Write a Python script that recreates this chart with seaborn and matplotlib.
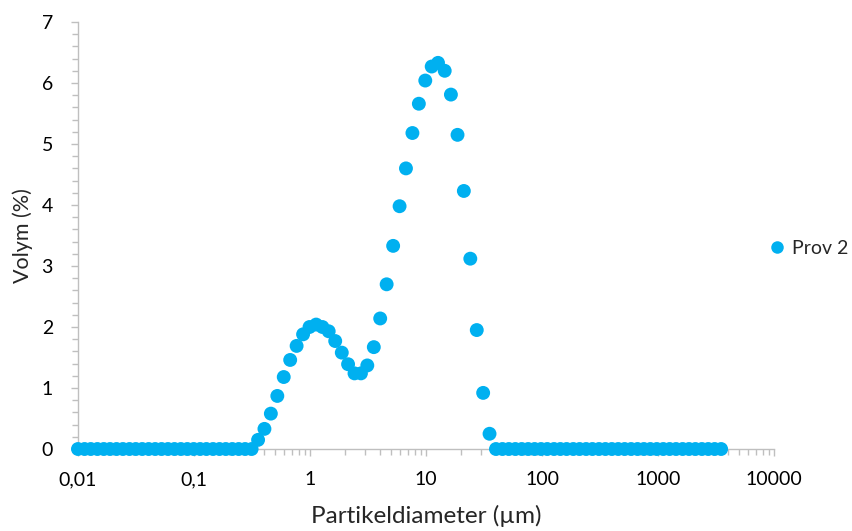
import matplotlib
matplotlib.use("Agg")
import matplotlib.pyplot as plt
import matplotlib.ticker as mticker
import seaborn as sns
import pandas as pd

# Particle size classes (µm)
sizes = [0.0100, 0.0114, 0.0129, 0.0147, 0.0167, 0.0189, 0.0215, 0.0244, 0.0278, 0.0315,
         0.0358, 0.0407, 0.0463, 0.0526, 0.0597, 0.0679, 0.0771, 0.0876, 0.0995, 0.113,
         0.128, 0.146, 0.166, 0.188, 0.214, 0.243, 0.276, 0.314, 0.357, 0.405,
         0.460, 0.523, 0.594, 0.675, 0.767, 0.872, 0.991, 1.13, 1.28, 1.45,
         1.65, 1.88, 2.13, 2.42, 2.75, 3.12, 3.55, 4.03, 4.58, 5.21,
         5.92, 6.72, 7.64, 8.68, 9.86, 11.2, 12.7, 14.5, 16.4, 18.7,
         21.2, 24.1, 27.4, 31.1, 35.3, 40.1, 45.6, 51.8, 58.9, 66.9,
         76.0, 86.4, 98.1, 111, 127, 144, 163, 186, 211, 240,
         272, 310, 352, 400, 454, 516, 586, 666, 756, 859,
         976, 1110, 1260, 1430, 1630, 1850, 2100, 2390, 2710, 3080, 3500]

# Volume (%)
volume = [0, 0, 0, 0, 0, 0, 0, 0, 0, 0,
          0, 0, 0, 0, 0, 0, 0, 0, 0, 0,
          0, 0, 0, 0, 0, 0, 0, 0, 0.15, 0.33,
          0.58, 0.87, 1.18, 1.46, 1.69, 1.88, 2.00, 2.04, 2.00, 1.93,
          1.77, 1.58, 1.39, 1.24, 1.24, 1.37, 1.67, 2.14, 2.70, 3.33,
          3.98, 4.60, 5.18, 5.66, 6.04, 6.27, 6.33, 6.20, 5.81, 5.15,
          4.23, 3.12, 1.95, 0.92, 0.25, 0, 0, 0, 0, 0,
          0, 0, 0, 0, 0, 0, 0, 0, 0, 0,
          0, 0, 0, 0, 0, 0, 0, 0, 0, 0,
          0, 0, 0, 0, 0, 0, 0, 0, 0, 0, 0]

series_name = "Prov 2"
x_ticks = [0.01, 0.1, 1, 10, 100, 1000, 10000]
x_tick_labels = ["0,01", "0,1", "1", "10", "100", "1000", "10000"]
y_ticks = [0, 1, 2, 3, 4, 5, 6, 7]

df = pd.DataFrame({"size": sizes, "volume": volume, "series": series_name})

sns.set_style("white")
plt.rcParams["font.family"] = ["Lato", "DejaVu Sans"]

fig = plt.figure(figsize=(8.53, 5.31), dpi=100)
ax = fig.add_axes([0.0914, 0.1544, 0.8160, 0.8042])

sns.scatterplot(data=df, x="size", y="volume", hue="series", palette=["#00B0F0"],
                s=100, edgecolor="none", ax=ax, legend=True, zorder=3, clip_on=False)

ax.set_xscale("log")
ax.set_xlim(0.01, 10000)
ax.set_ylim(0, 7)

ax.xaxis.set_major_locator(mticker.FixedLocator(x_ticks))
ax.xaxis.set_major_formatter(mticker.FixedFormatter(x_tick_labels))
ax.xaxis.set_minor_locator(mticker.LogLocator(base=10, subs=[2, 3, 4, 5, 6, 7, 8, 9], numticks=20))
ax.xaxis.set_minor_formatter(mticker.NullFormatter())
ax.yaxis.set_major_locator(mticker.FixedLocator(y_ticks))
ax.yaxis.set_minor_locator(mticker.MultipleLocator(0.2))

for s in ["top", "right"]:
    ax.spines[s].set_visible(False)
for s in ["left", "bottom"]:
    ax.spines[s].set_color("#BFBFBF")
    ax.spines[s].set_linewidth(1.0)

ax.tick_params(axis="x", which="both", direction="out", color="#BFBFBF", width=1.0,
               bottom=True, labelsize=14, pad=11, labelcolor="black")
ax.tick_params(axis="x", which="major", length=5)
ax.tick_params(axis="x", which="minor", length=4)
ax.tick_params(axis="y", which="both", direction="out", color="#BFBFBF", width=1.0,
               left=True, labelsize=14, pad=13, labelcolor="black")
ax.tick_params(axis="y", which="major", length=5)
ax.tick_params(axis="y", which="minor", length=4)

ax.set_xlabel("Partikeldiameter (µm)", fontsize=17.5, labelpad=12)
ax.set_ylabel("Volym (%)", fontsize=15.5, labelpad=6)
ax.grid(False)

handles, labels = ax.get_legend_handles_labels()
ax.legend(handles, labels, loc="center left", bbox_to_anchor=(0.99, 0.47), frameon=False,
          fontsize=14, handlelength=1.0, handletextpad=0.3, markerscale=0.9,
          borderaxespad=0.0, borderpad=0.0)

fig.savefig("out.png", dpi=100)
